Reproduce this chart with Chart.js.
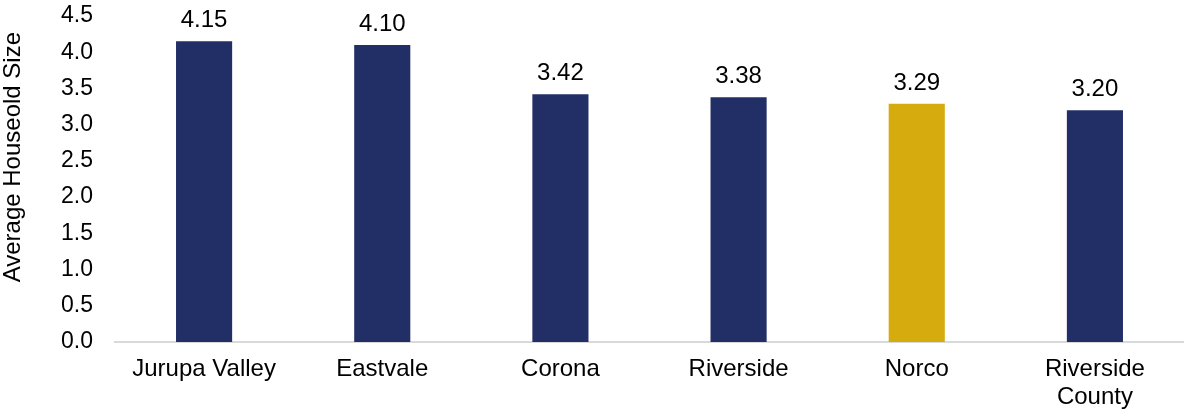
<!DOCTYPE html>
<html>
<head>
<meta charset="utf-8">
<script src="https://cdn.jsdelivr.net/npm/chart.js@4"></script>
<style>
  html, body { margin: 0; padding: 0; background: #ffffff; }
  #wrap { width: 1184px; height: 412px; position: relative; }
</style>
</head>
<body>
<div id="wrap"><canvas id="chart"></canvas></div>
<script>
// Average household size by place
const places = [["Jurupa Valley"], ["Eastvale"], ["Corona"], ["Riverside"], ["Norco"], ["Riverside", "County"]];
const householdSize = [4.15, 4.10, 3.42, 3.38, 3.29, 3.20];
const yTicks = [0.0, 0.5, 1.0, 1.5, 2.0, 2.5, 3.0, 3.5, 4.0, 4.5];
const yAxisTitle = "Average Houseold Size";
const highlightPlace = "Norco";

const NAVY = "#222F67";
const GOLD = "#D6AB0E";
const FONT = "'Liberation Sans', Arial, sans-serif";

const barColors = places.map(p => p.join(" ") === highlightPlace ? GOLD : NAVY);

// Writes each bar's value above it
const valueLabels = {
  id: "valueLabels",
  afterDatasetsDraw(chart) {
    const ctx = chart.ctx;
    const meta = chart.getDatasetMeta(0);
    ctx.save();
    ctx.fillStyle = "#000000";
    ctx.font = "24px " + FONT;
    ctx.textAlign = "center";
    ctx.textBaseline = "alphabetic";
    meta.data.forEach((bar, i) => {
      ctx.fillText(householdSize[i].toFixed(2), bar.x, bar.y - 14);
    });
    ctx.restore();
  }
};

// Rotated y-axis title, centred a little above the middle of the value axis
const yTitle = {
  id: "yTitle",
  afterDraw(chart) {
    const ctx = chart.ctx;
    const area = chart.chartArea;
    ctx.save();
    ctx.translate(13, area.top + (area.bottom - area.top) * 0.433);
    ctx.rotate(-Math.PI / 2);
    ctx.fillStyle = "#000000";
    ctx.font = "24px " + FONT;
    ctx.textAlign = "center";
    ctx.textBaseline = "middle";
    ctx.fillText(yAxisTitle, 0, 0);
    ctx.restore();
  }
};

new Chart(document.getElementById("chart"), {
  type: "bar",
  data: {
    labels: places,
    datasets: [{
      data: householdSize,
      backgroundColor: barColors,
      borderWidth: 0,
      barPercentage: 1,
      categoryPercentage: 0.315
    }]
  },
  options: {
    responsive: true,
    maintainAspectRatio: false,
    animation: false,
    layout: { padding: { top: 16, right: 0, bottom: 0, left: 0 } },
    plugins: { legend: { display: false }, tooltip: { enabled: false } },
    scales: {
      x: {
        afterFit(scale) { scale.height = 70; scale.paddingLeft = 0; scale.paddingRight = 0; },
        grid: { display: false, drawTicks: false },
        border: { display: true, color: "#D9D9D9", width: 2 },
        ticks: { color: "#000000", font: { family: FONT, size: 24, lineHeight: 1.17 }, padding: 13, maxRotation: 0, autoSkip: false }
      },
      y: {
        min: 0,
        max: 4.5,
        afterBuildTicks(scale) { scale.ticks = yTicks.map(v => ({ value: v })); },
        afterFit(scale) { scale.width = 115; scale.paddingTop = 0; scale.paddingBottom = 0; },
        grid: { display: false, drawTicks: false },
        border: { display: false },
        ticks: {
          color: "#000000",
          font: { family: FONT, size: 23 },
          padding: 22,
          callback: v => Number(v).toFixed(1)
        },
        title: { display: false }
      }
    }
  },
  plugins: [valueLabels, yTitle]
});
</script>
</body>
</html>
